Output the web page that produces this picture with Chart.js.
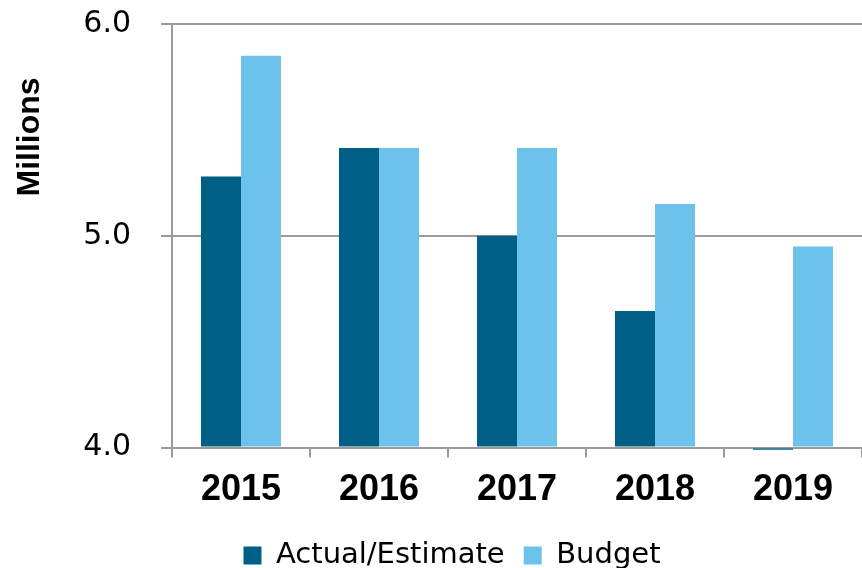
<!DOCTYPE html>
<html>
<head>
<meta charset="utf-8">
<script src="https://cdn.jsdelivr.net/npm/chart.js@4/dist/chart.umd.min.js"></script>
<style>
  html, body { margin: 0; padding: 0; background: #fff; }
  #wrap { width: 862px; height: 568px; }
</style>
</head>
<body>
<div id="wrap"><canvas id="chart"></canvas></div>
<script>
// values, in millions
const years = ['2015', '2016', '2017', '2018', '2019'];
const actualEstimate = [5.28, 5.415, 5.0, 4.645, 3.99];
const budget = [5.85, 5.415, 5.415, 5.15, 4.95];
const yTicks = [4.0, 5.0, 6.0];

const gridGray = '#9a9a9a';

const ctx = document.getElementById('chart');
const chart = new Chart(ctx, {
    type: 'bar',
    data: {
        labels: years,
        datasets: [
            {
                label: 'Actual/Estimate',
                data: actualEstimate,
                backgroundColor: '#005f87',
                borderWidth: 0,
                base: 4,
                clip: { left: 0, top: 0, right: 0, bottom: 3 }
            },
            {
                label: 'Budget',
                data: budget,
                backgroundColor: '#6cc2ea',
                borderWidth: 0,
                base: 4
            }
        ]
    },
    options: {
        responsive: true,
        maintainAspectRatio: false,
        animation: false,
        categoryPercentage: 0.58,
        barPercentage: 1.0,
        layout: {
            padding: { left: 42, top: 24, right: 0, bottom: -12 }
        },
        plugins: {
            legend: {
                position: 'bottom',
                labels: {
                    color: '#000',
                    boxWidth: 18,
                    boxHeight: 18,
                    padding: 19,
                    font: { family: 'DejaVu Sans, sans-serif', size: 29 }
                }
            },
            tooltip: { enabled: false }
        },
        scales: {
            x: {
                offset: true,
                grid: {
                    drawOnChartArea: false,
                    drawTicks: true,
                    tickLength: 10,
                    color: gridGray,
                    lineWidth: 2
                },
                border: { display: true, color: gridGray, width: 2 },
                ticks: {
                    color: '#000',
                    padding: 25,
                    font: { family: 'Liberation Sans, Arial, sans-serif', size: 36, weight: 'bold', lineHeight: 0.4 }
                }
            },
            y: {
                min: 4,
                max: 6,
                afterFit: function (scale) {
                    scale.width = 130;
                    scale.paddingTop = 0;
                    scale.paddingBottom = 0;
                },
                afterBuildTicks: function (scale) {
                    scale.ticks = yTicks.map(v => ({ value: v }));
                },
                grid: {
                    color: gridGray,
                    lineWidth: 2,
                    tickLength: 11
                },
                border: { display: true, color: gridGray, width: 2 },
                ticks: {
                    color: '#000',
                    padding: 30,
                    font: { family: 'DejaVu Sans, sans-serif', size: 30 },
                    callback: function (value) {
                        return Number(value).toFixed(1);
                    }
                },
                title: {
                    display: true,
                    align: 'end',
                    text: 'Millions      ',
                    color: '#000',
                    padding: { top: -31, bottom: 0 },
                    font: { family: 'Liberation Sans, Arial, sans-serif', size: 32, weight: 'bold' }
                }
            }
        }
    }
});
</script>
</body>
</html>
